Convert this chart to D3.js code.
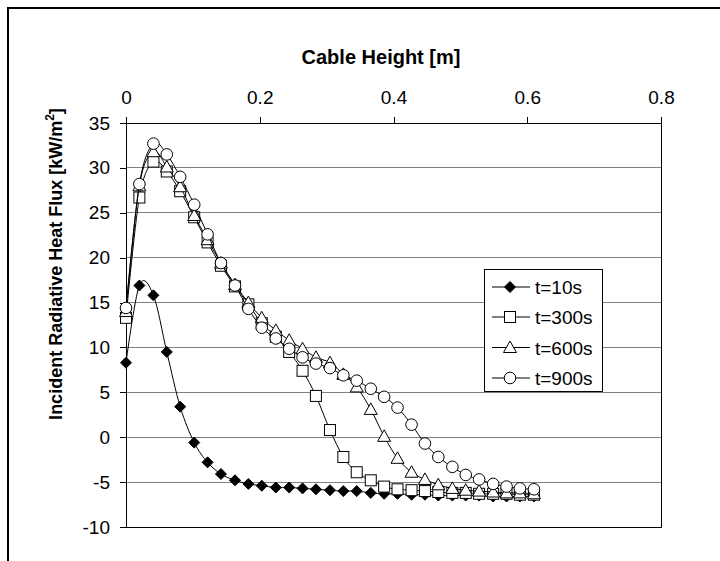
<!DOCTYPE html>
<html>
<head>
<meta charset="utf-8">
<script src="https://cdn.jsdelivr.net/npm/d3@7.9.0/dist/d3.min.js"></script>
<style>
  html, body { margin: 0; padding: 0; background: #fff; }
  svg { display: block; font-family: "Liberation Sans", Arial, sans-serif; }
</style>
</head>
<body>
<svg id="chart" width="720" height="561"></svg>
<script>
// cable height along the tray [m]
const heights = [0, 0.020, 0.041, 0.061, 0.081, 0.102, 0.122, 0.142, 0.163, 0.183, 0.203,
  0.224, 0.244, 0.264, 0.284, 0.305, 0.325, 0.345, 0.366, 0.386, 0.406,
  0.427, 0.447, 0.467, 0.488, 0.508, 0.528, 0.549, 0.569, 0.589, 0.610];

// incident radiative heat flux [kW/m2]
const t10 = [8.3, 16.9, 15.8, 9.5, 3.4, -0.6, -2.8, -4.1, -4.8, -5.2, -5.4,
  -5.6, -5.6, -5.7, -5.8, -5.9, -6.0, -6.0, -6.2, -6.3, -6.3,
  -6.4, -6.4, -6.5, -6.5, -6.5, -6.5, -6.6, -6.6, -6.6, -6.6];
const t300 = [13.3, 26.7, 30.7, 29.6, 27.4, 24.5, 21.7, 19.1, 16.8, 14.8, 12.7,
  11.2, 9.5, 7.4, 4.6, 0.8, -2.2, -3.9, -4.8, -5.5, -5.8,
  -5.9, -6.0, -6.1, -6.2, -6.2, -6.3, -6.3, -6.3, -6.4, -6.4];
const t600 = [14.0, 28.0, 31.8, 30.1, 27.9, 24.7, 22.0, 19.4, 17.0, 15.0, 13.3,
  11.9, 10.8, 9.85, 8.9, 8.3, 7.0, 5.6, 3.1, 0.1, -2.35,
  -3.9, -4.7, -5.3, -5.7, -5.9, -6.0, -6.1, -6.2, -6.2, -6.3];
const t900 = [14.4, 28.2, 32.7, 31.5, 29.0, 25.9, 22.6, 19.4, 16.9, 14.3, 12.2,
  11.0, 9.85, 8.9, 8.2, 7.7, 6.9, 6.3, 5.4, 4.5, 3.3,
  1.4, -0.7, -2.2, -3.3, -4.2, -4.7, -5.2, -5.5, -5.7, -5.8];

const seriesNames = ['t=10s', 't=300s', 't=600s', 't=900s'];
const seriesValues = [t10, t300, t600, t900];
const markerTypes = ['diamond', 'square', 'triangle', 'circle'];

const xTicks = [0, 0.2, 0.4, 0.6, 0.8];
const yTicks = [-10, -5, 0, 5, 10, 15, 20, 25, 30, 35];

const svg = d3.select('#chart');

// outer chart frame (cropped at right/bottom)
svg.append('rect')
  .attr('x', 8).attr('y', 8)
  .attr('width', 740).attr('height', 600)
  .attr('fill', '#fff')
  .attr('stroke', '#000')
  .attr('stroke-width', 2);

const plot = { left: 126, right: 661, top: 123, bottom: 527 };

const x = d3.scaleLinear().domain([0, 0.8]).range([plot.left, plot.right]);
const y = d3.scaleLinear().domain([-10, 35]).range([plot.bottom, plot.top]);

// gridlines
svg.append('g')
  .selectAll('line')
  .data(yTicks.filter(d => d > -10 && d < 35))
  .join('line')
  .attr('x1', plot.left).attr('x2', plot.right)
  .attr('y1', d => y(d)).attr('y2', d => y(d))
  .attr('stroke', '#808080')
  .attr('stroke-width', 1)
  .attr('shape-rendering', 'crispEdges');

// plot border
svg.append('rect')
  .attr('x', plot.left).attr('y', plot.top)
  .attr('width', plot.right - plot.left)
  .attr('height', plot.bottom - plot.top)
  .attr('fill', 'none')
  .attr('stroke', '#000')
  .attr('stroke-width', 1)
  .attr('shape-rendering', 'crispEdges');

// x axis along the top
const xAxis = svg.append('g')
  .attr('transform', `translate(0,${plot.top})`)
  .call(d3.axisTop(x).tickValues(xTicks).tickSize(6).tickPadding(13)
    .tickFormat(d => String(d)));
xAxis.select('.domain').remove();
xAxis.selectAll('line').attr('stroke', '#000').attr('shape-rendering', 'crispEdges');
xAxis.selectAll('text').attr('font-size', 19).attr('fill', '#000')
  .attr('font-family', '"Liberation Sans", Arial, sans-serif');

const yAxis = svg.append('g')
  .attr('transform', `translate(${plot.left},0)`)
  .call(d3.axisLeft(y).tickValues(yTicks).tickSize(6).tickPadding(10)
    .tickFormat(d => String(d)));
yAxis.select('.domain').remove();
yAxis.selectAll('line').attr('stroke', '#000').attr('shape-rendering', 'crispEdges');
yAxis.selectAll('text').attr('font-size', 19).attr('fill', '#000')
  .attr('font-family', '"Liberation Sans", Arial, sans-serif');

// axis titles
svg.append('text')
  .attr('x', 381).attr('y', 64)
  .attr('text-anchor', 'middle')
  .attr('font-size', 20).attr('font-weight', 'bold')
  .text('Cable Height [m]');

const yTitle = svg.append('text')
  .attr('transform', 'translate(62,264) rotate(-90)')
  .attr('text-anchor', 'middle')
  .attr('font-size', 18).attr('font-weight', 'bold');
yTitle.append('tspan').text('Incident Radiative Heat Flux [kW/m');
yTitle.append('tspan').attr('font-size', 12).attr('dy', -8).text('2');
yTitle.append('tspan').attr('dy', 8).text(']');

// markers
function drawMarker(g, type, cx, cy) {
  if (type === 'diamond') {
    g.append('path')
      .attr('d', `M${cx},${cy - 5.5}L${cx + 5.5},${cy}L${cx},${cy + 5.5}L${cx - 5.5},${cy}Z`)
      .attr('fill', '#000').attr('stroke', '#000');
  } else if (type === 'square') {
    g.append('rect')
      .attr('x', cx - 5.5).attr('y', cy - 5.5)
      .attr('width', 11).attr('height', 11)
      .attr('fill', '#fff').attr('stroke', '#000');
  } else if (type === 'triangle') {
    g.append('path')
      .attr('d', `M${cx},${cy - 6.5}L${cx + 6.5},${cy + 5}L${cx - 6.5},${cy + 5}Z`)
      .attr('fill', '#fff').attr('stroke', '#000');
  } else {
    g.append('circle')
      .attr('cx', cx).attr('cy', cy).attr('r', 5.8)
      .attr('fill', '#fff').attr('stroke', '#000');
  }
}

const line = d3.line()
  .x(d => x(d[0]))
  .y(d => y(d[1]))
  .curve(d3.curveCardinal.tension(0));

seriesValues.forEach((vals, i) => {
  const pts = heights.map((h, j) => [h, vals[j]]);
  const g = svg.append('g');
  g.append('path')
    .attr('d', line(pts))
    .attr('fill', 'none')
    .attr('stroke', '#000')
    .attr('stroke-width', 1);
  pts.forEach(p => drawMarker(g, markerTypes[i], x(p[0]), y(p[1])));
});

// legend
const legend = svg.append('g');
legend.append('rect')
  .attr('x', 484.5).attr('y', 269.5)
  .attr('width', 118).attr('height', 122)
  .attr('fill', '#fff')
  .attr('stroke', '#000')
  .attr('stroke-width', 1);

const legendY = [287, 317, 347.5, 378];
seriesNames.forEach((name, i) => {
  const g = legend.append('g');
  g.append('line')
    .attr('x1', 492).attr('x2', 530)
    .attr('y1', legendY[i]).attr('y2', legendY[i])
    .attr('stroke', '#000');
  drawMarker(g, markerTypes[i], 510, legendY[i]);
  g.append('text')
    .attr('x', 535).attr('y', legendY[i] + 7)
    .attr('font-size', 19)
    .text(name);
});
</script>
</body>
</html>
